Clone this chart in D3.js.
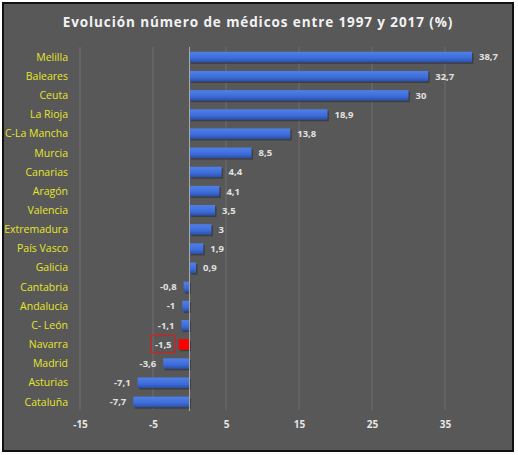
<!DOCTYPE html>
<html>
<head>
<meta charset="utf-8">
<script src="https://cdn.jsdelivr.net/npm/d3@7"></script>
<style>
  body { margin: 0; background: #fff; }
  svg { display: block; }
</style>
</head>
<body>
<svg id="chart" width="518" height="455"></svg>
<script>
// datos
var regiones = ["Melilla", "Baleares", "Ceuta", "La Rioja", "C-La Mancha", "Murcia", "Canarias",
  "Aragón", "Valencia", "Extremadura", "País Vasco", "Galicia", "Cantabria", "Andalucía",
  "C- León", "Navarra", "Madrid", "Asturias", "Cataluña"];
var variacion = [38.7, 32.7, 30, 18.9, 13.8, 8.5, 4.4, 4.1, 3.5, 3, 1.9, 0.9, -0.8, -1, -1.1, -1.5, -3.6, -7.1, -7.7];
var ticksX = [-15, -5, 5, 15, 25, 35];
var destacada = "Navarra";

var svg = d3.select("#chart");

// marco
svg.append("rect").attr("x", 3).attr("y", 3).attr("width", 510).attr("height", 448)
  .attr("fill", "#585858").attr("stroke", "#111").attr("stroke-width", 2);

svg.append("text").attr("x", 258).attr("y", 27).attr("text-anchor", "middle")
  .attr("font-family", "Open Sans, sans-serif").attr("font-weight", "bold")
  .attr("font-size", 13.5).attr("letter-spacing", 0.9).attr("fill", "#f2f2f2")
  .text("Evolución número de médicos entre 1997 y 2017 (%)");

var grad = svg.append("defs").append("linearGradient").attr("id", "azul")
  .attr("x1", 0).attr("x2", 0).attr("y1", 0).attr("y2", 1);
grad.append("stop").attr("offset", "0%").attr("stop-color", "#4f80e8");
grad.append("stop").attr("offset", "60%").attr("stop-color", "#3d6cd8");
grad.append("stop").attr("offset", "100%").attr("stop-color", "#2a4fa8");

var x = d3.scaleLinear().domain([-15, 40]).range([80, 481.5]);
var y = d3.scaleBand().domain(regiones).range([47.5, 411.5]).paddingInner(0.45).paddingOuter(0.225);

// rejilla
svg.append("g").selectAll("line").data(ticksX).enter().append("line")
  .attr("x1", function(d){ return x(d); }).attr("x2", function(d){ return x(d); })
  .attr("y1", 47).attr("y2", 410)
  .attr("stroke", "#6e6e6e").attr("stroke-width", 1);

var eje = svg.append("g").attr("transform", "translate(0,425)")
  .call(d3.axisBottom(x).tickValues(ticksX).tickSize(0).tickFormat(function(d){ return String(d); }));
eje.select(".domain").remove();
eje.selectAll("text").attr("fill", "#e6e6e6").attr("font-size", 10)
  .attr("font-family", "Open Sans, sans-serif").attr("font-weight", "bold").attr("dy", "0");

// sombra de barras
svg.append("g").selectAll("rect").data(regiones).enter().append("rect")
  .attr("x", function(d, i){ return Math.min(x(0), x(variacion[i])) + 1.5; })
  .attr("y", function(d){ return y(d) + 1.5; })
  .attr("width", function(d, i){ return Math.abs(x(variacion[i]) - x(0)); })
  .attr("height", y.bandwidth())
  .attr("fill", "#2f2f2f").attr("opacity", 0.6);

svg.append("g").selectAll("rect").data(regiones).enter().append("rect")
  .attr("x", function(d, i){ return Math.min(x(0), x(variacion[i])); })
  .attr("y", function(d){ return y(d); })
  .attr("width", function(d, i){ return Math.abs(x(variacion[i]) - x(0)); })
  .attr("height", y.bandwidth())
  .attr("fill", function(d){ return d == destacada ? "#ff0000" : "url(#azul)"; });

// linea del cero
svg.append("line").attr("x1", x(0)).attr("x2", x(0)).attr("y1", 47).attr("y2", 411)
  .attr("stroke", "#a8a8a8").attr("stroke-width", 1);

// etiquetas de categoria
svg.append("g").selectAll("text").data(regiones).enter().append("text")
  .attr("x", 68).attr("y", function(d){ return y(d) + y.bandwidth() / 2; })
  .attr("dy", "0.35em").attr("text-anchor", "end")
  .attr("font-family", "Open Sans, sans-serif").attr("font-size", 10.5)
  .attr("fill", "#e6e62a").text(function(d){ return d; });

// valores
var fmt = function(v){ return String(v).replace(".", ","); };
svg.append("g").selectAll("text").data(regiones).enter().append("text")
  .attr("x", function(d, i){ return variacion[i] >= 0 ? x(variacion[i]) + 7 : x(variacion[i]) - 7; })
  .attr("y", function(d){ return y(d) + y.bandwidth() / 2; })
  .attr("dy", "0.35em")
  .attr("text-anchor", function(d, i){ return variacion[i] >= 0 ? "start" : "end"; })
  .attr("font-family", "Open Sans, sans-serif").attr("font-size", 9.5).attr("font-weight", "bold")
  .attr("fill", "#e2e2e2").text(function(d, i){ return fmt(variacion[i]); });

// recuadro rojo en Navarra
var iN = regiones.indexOf(destacada);
svg.append("rect").attr("x", x(variacion[iN]) - 28).attr("y", y(destacada) + y.bandwidth() / 2 - 9)
  .attr("width", 24).attr("height", 17)
  .attr("fill", "none").attr("stroke", "#d42020").attr("stroke-width", 1.2);
</script>
</body>
</html>
